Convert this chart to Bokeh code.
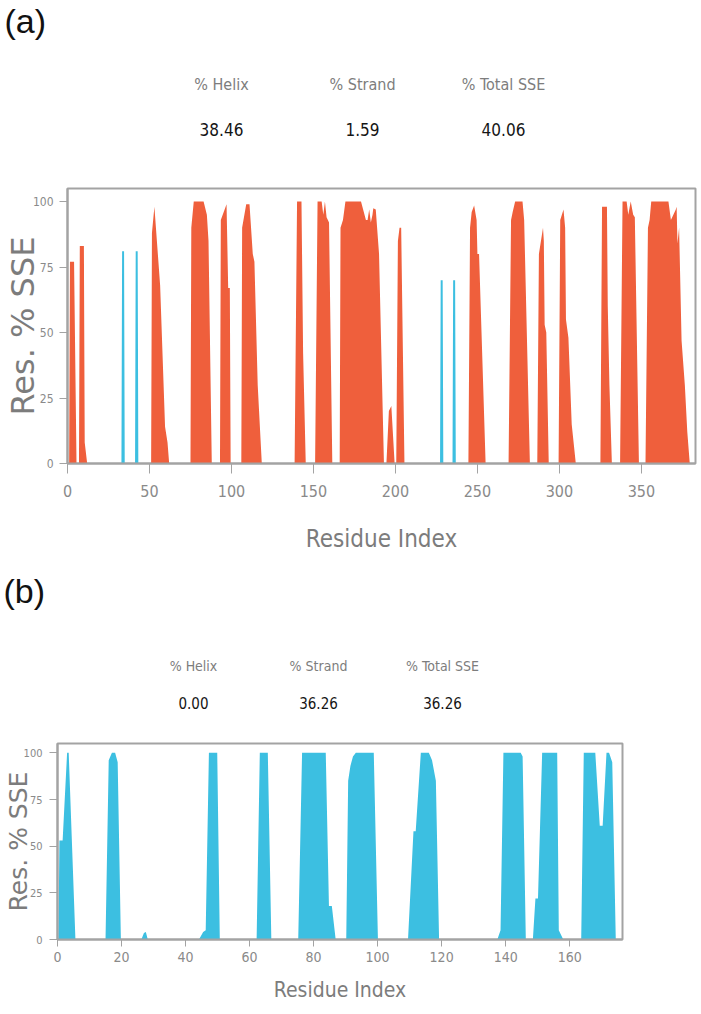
from bokeh.plotting import figure
from bokeh.models import Label, FixedTicker, Range1d
from bokeh.layouts import column
from bokeh.embed import file_html
from bokeh.resources import INLINE

# ---------------- data ----------------
# Panel (a): per-residue helix / strand occupancy (%), breakpoints of the profile
helix_a_x = [1, 1.5, 4, 5.5,
             7, 7.5, 10, 10.5, 12,
             51, 51.5, 53, 56.5, 59.5, 61, 62,
             75, 75.5, 77, 83, 85, 86, 88,
             93, 93.5, 97, 98, 99, 99.5,
             106, 106.5, 109, 111, 113, 114, 116, 118.5,
             138.5, 140, 142.7, 143.7, 145.3,
             151, 152.5, 155, 156, 157, 158, 159.5, 161.5,
             166, 166.5, 168, 169.5, 179, 182, 183, 184, 185, 186, 186.5, 188, 190, 193,
             194.5, 196, 197.5, 199.5,
             200.5, 201.5, 202.5, 203.5, 205.5,
             244.5, 245.5, 246.5, 248, 249.5, 250, 251, 253, 255,
             269, 270.5, 271.5, 273, 277.5, 278.5, 280.5, 282,
             286.5, 287.5, 290, 290.5, 291, 292, 293.5,
             299.5, 300.5, 302.5, 303.5, 304, 305.5, 307.5, 310,
             325, 326, 329, 329.5, 330.5, 332,
             337, 338.5, 341, 342, 343.5, 345, 346, 348.5,
             352.5, 354, 355, 356, 366.5, 368, 369.5, 371, 371.5, 372, 373, 374.5, 376.5, 378, 379.5]
helix_a_y = [0, 77, 77, 0,
             0, 83, 83, 8, 0,
             0, 88, 98, 68, 14, 8, 0,
             0, 90, 100, 100, 95, 85, 0,
             0, 93, 99, 67, 67, 0,
             0, 90, 99, 99, 80, 77, 30, 0,
             0, 100, 100, 42, 0,
             0, 100, 100, 95, 100, 94, 92, 0,
             0, 90, 93, 100, 100, 93, 93, 97, 92, 95, 97.5, 97, 80, 0,
             0, 20, 22, 0,
             0, 85, 90, 90, 0,
             0, 90, 96, 98.5, 93, 80, 80, 40, 0,
             0, 93, 96, 100, 100, 93, 40, 0,
             0, 80, 90, 85, 53, 50, 0,
             0, 93, 97, 90, 55, 48, 15, 0,
             0, 98, 98, 60, 30, 0,
             0, 100, 100, 95, 100, 95, 94, 0,
             0, 90, 93, 100, 100, 93, 95, 97, 98, 84, 90, 47, 30, 12, 0]
strand_a_x = [32.9, 33.3, 34.5, 34.9,
              41.2, 41.6, 42.8, 43.2,
              227.2, 227.6, 228.8, 229.2,
              234.8, 235.2, 236.4, 236.8]
strand_a_y = [0, 81, 81, 0,
              0, 81, 81, 0,
              0, 70, 70, 0,
              0, 70, 70, 0]

# Panel (b): strand only
strand_b_x = [0.3, 0.6, 1.6, 3, 3.5, 5.6,
              15, 16, 17, 18, 18.8, 19.8,
              26.2, 27, 27.6, 28.2,
              44.2, 45.5, 46.3, 47.3, 49.9, 50.7,
              62.2, 63.2, 65.7, 66.8,
              75.2, 76.4, 83.8, 84.8, 85.7, 86.9,
              90.2, 90.8, 91.5, 92.3, 93.2, 98.8, 100.1,
              109.5, 111.2, 111.9, 113.5, 116, 117, 118.2, 119.2,
              137.4, 138.4, 139.3, 144.7, 145.3, 146.3,
              148.5, 149.3, 150.1, 151.4, 156.1, 156.6, 158,
              163.6, 164.4, 168, 169.4, 170.3, 171.5, 172.3, 173.3, 174.4]
strand_b_y = [0, 53, 53, 100, 100, 0,
              0, 96, 100, 100, 95, 0,
              0, 3.5, 4, 0,
              0, 4, 5, 100, 100, 0,
              0, 100, 100, 0,
              0, 100, 100, 18, 18, 0,
              0, 85, 93, 98, 100, 100, 0,
              0, 58, 58, 100, 100, 96, 85, 0,
              0, 5, 100, 100, 98, 0,
              0, 22, 22, 100, 100, 5, 0,
              0, 100, 100, 61, 61, 100, 100, 95, 0]

x_ticks_a = [0, 50, 100, 150, 200, 250, 300, 350]
x_ticks_b = [0, 20, 40, 60, 80, 100, 120, 140, 160]
y_ticks = [0, 25, 50, 75, 100]

stat_names = ["% Helix", "% Strand", "% Total SSE"]
stats_a = ["38.46", "1.59", "40.06"]
stats_b = ["0.00", "36.26", "36.26"]

# ---------------- style ----------------
HELIX = "#EF5F3C"
STRAND = "#3CBFE1"
FRAME = "#a3a3a3"
NARROW = "Liberation Sans Narrow, Arial Narrow, DejaVu Sans Condensed, Liberation Sans, sans-serif"
SANS = "Liberation Sans, Arial, sans-serif"
DJV = "DejaVu Sans, sans-serif"
W = 701


def no_align(p):
    if "frame_align" in p.properties():
        p.frame_align = False


def style_axes(p, xticks, xtick_font, xlabel_font, ytick_font, ylabel_font,
               xtick_out, ytick_out, xtick_standoff, ytick_standoff,
               xlab_standoff, ylab_standoff):
    p.grid.visible = False
    p.outline_line_color = FRAME
    p.outline_line_width = 2
    p.xaxis.ticker = FixedTicker(ticks=xticks)
    p.yaxis.ticker = FixedTicker(ticks=y_ticks)
    for ax in (p.xaxis, p.yaxis):
        ax.axis_line_color = FRAME
        ax.axis_line_width = 2
        ax.major_tick_line_color = FRAME
        ax.major_tick_line_width = 1
        ax.minor_tick_line_color = None
        ax.major_tick_in = 0
        ax.major_label_text_font = NARROW
        ax.major_label_text_color = "#8a8a8a"
        ax.axis_label_text_font_style = "normal"
        ax.axis_label_text_color = "#7c7c7c"
    p.xaxis.major_tick_out = xtick_out
    p.yaxis.major_tick_out = ytick_out
    p.xaxis.major_label_text_font_size = xtick_font
    p.yaxis.major_label_text_font_size = ytick_font
    p.xaxis.major_label_standoff = xtick_standoff
    p.yaxis.major_label_standoff = ytick_standoff
    p.xaxis.axis_label = "Residue Index"
    p.xaxis.axis_label_text_font = NARROW
    p.xaxis.axis_label_text_font_size = xlabel_font
    p.xaxis.axis_label_standoff = xlab_standoff
    p.yaxis.axis_label = "Res. % SSE"
    p.yaxis.axis_label_text_font = DJV
    p.yaxis.axis_label_text_font_size = ylabel_font
    p.yaxis.axis_label_standoff = ylab_standoff


def header(height, tag, tag_x, tag_y, xs, name_y, val_y, name_size, val_size, values):
    h = figure(width=W, height=height, x_range=Range1d(0, W), y_range=Range1d(0, height),
               output_backend="svg", toolbar_location=None,
               x_axis_location=None, y_axis_location=None, min_border=0)
    h.min_border_left = h.min_border_right = h.min_border_top = h.min_border_bottom = 0
    h.grid.visible = False
    h.outline_line_color = None
    no_align(h)
    h.add_layout(Label(x=tag_x, y=tag_y, text=tag, text_font=SANS, text_font_size="34px",
                       text_color="#111111", text_align="left", text_baseline="middle"))
    for xpos, name, val in zip(xs, stat_names, values):
        h.add_layout(Label(x=xpos, y=name_y, text=name, text_font=NARROW,
                           text_font_size=name_size, text_color="#7d7d7d",
                           text_align="center", text_baseline="middle"))
        h.add_layout(Label(x=xpos, y=val_y, text=val, text_font=NARROW,
                           text_font_size=val_size, text_color="#151515",
                           text_align="center", text_baseline="middle"))
    return h


# ---------------- panel (a) ----------------
ha = header(150, "(a)", 4, 130, [221, 362, 503], 66, 21, "16px", "17px", stats_a)

pa = figure(width=W, height=410, x_range=Range1d(0, 383), y_range=Range1d(0, 105),
            output_backend="svg", toolbar_location=None,
            min_border_left=67, min_border_right=6, min_border_top=38, min_border_bottom=97)
no_align(pa)
pa.varea(x=helix_a_x, y1=0, y2=helix_a_y, color=HELIX)
pa.varea(x=strand_a_x, y1=0, y2=strand_a_y, color=STRAND)
style_axes(pa, x_ticks_a, "16px", "24px", "12px", "32px",
           10, 8, 11, 6, 25, -12)

# ---------------- panel (b) ----------------
hb = header(155, "(b)", 3, 125, [193, 318, 442], 50, 13, "14px", "15px", stats_b)

pb = figure(width=W, height=295, x_range=Range1d(0, 176.5), y_range=Range1d(0, 105),
            output_backend="svg", toolbar_location=None,
            min_border_left=57, min_border_right=79, min_border_top=28, min_border_bottom=71)
no_align(pb)
pb.varea(x=strand_b_x, y1=0, y2=strand_b_y, color=STRAND)
style_axes(pb, x_ticks_b, "14px", "21px", "11px", "25px",
           7, 8, 5, 7, 13, -12)

layout = column(ha, pa, hb, pb, spacing=0)
open("out.html", "w").write(file_html(layout, INLINE))
